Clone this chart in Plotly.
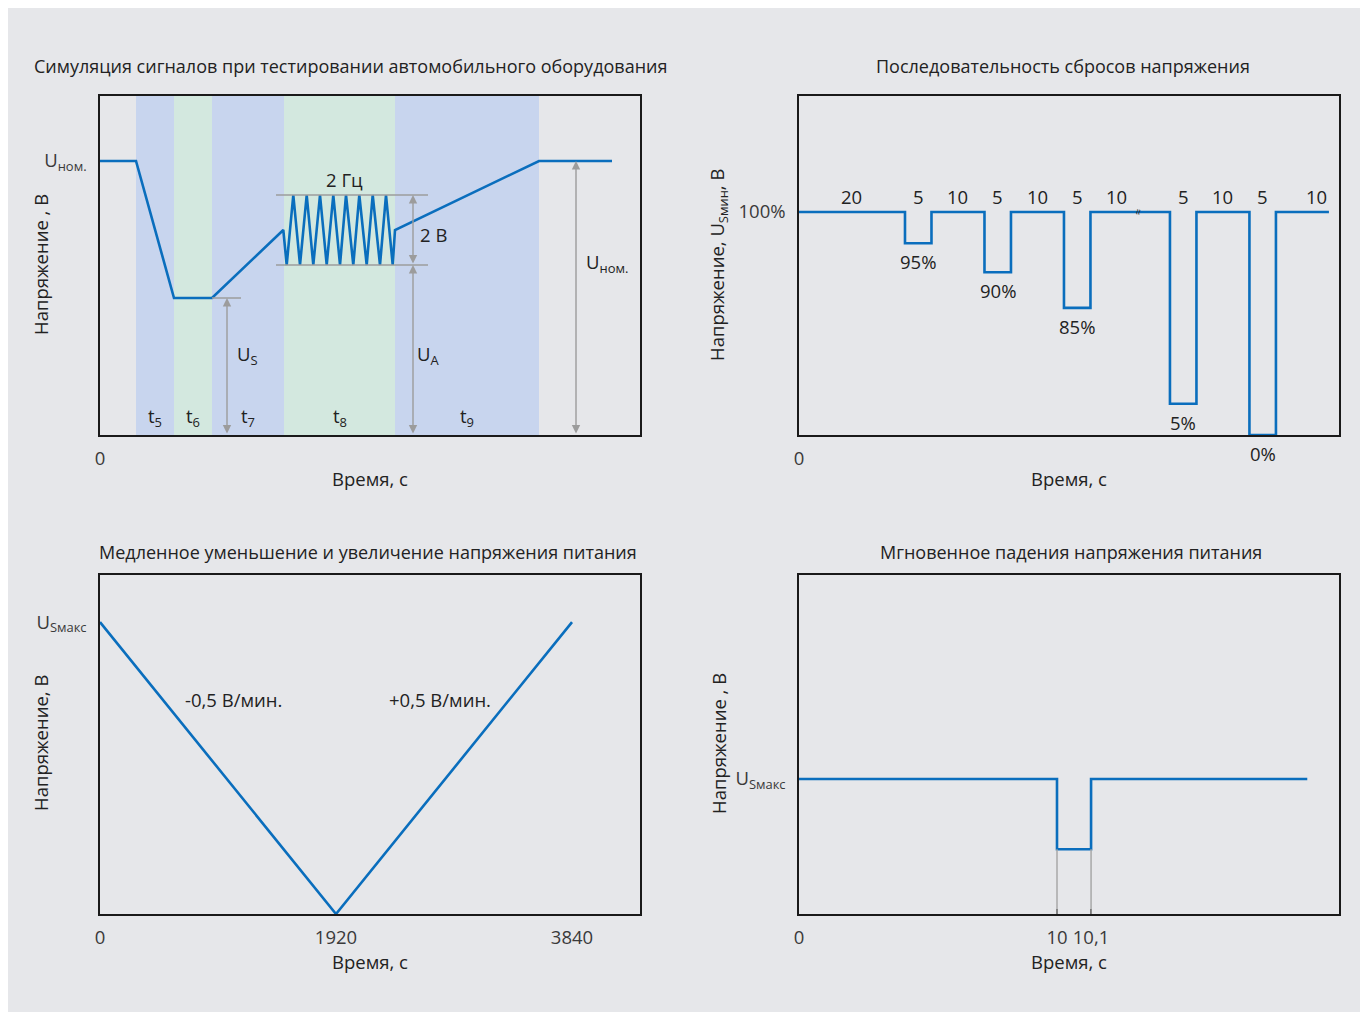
import plotly.graph_objects as go

# page body has an 8px margin, so the figure is sized to fit the window
OFF = 8
W, H = 1368 - OFF, 1016 - OFF
BG = "#e6e7ea"
BLUE = "#0a6ebd"
BAND_BLUE = "#c8d5ee"
BAND_GREEN = "#d3e8df"
GRAY = "#9c9c9c"
TXT = "#222222"
TICK = "#3a3a3a"
FONT = "Open Sans"
FS = 18.5
FS_TITLE = 18

# ---------------- Chart 1: automotive test signal (schematic units) ----------------
phase_labels = ["t<sub>5</sub>", "t<sub>6</sub>", "t<sub>7</sub>", "t<sub>8</sub>", "t<sub>9</sub>"]
phase_bounds = [36, 74, 112, 184, 295, 439]
phase_colors = [BAND_BLUE, BAND_GREEN, BAND_BLUE, BAND_GREEN, BAND_BLUE]
U_NOM = 274
U_S = 137
OSC_HI = 240
OSC_LO = 170
sim_t = [0, 36, 74, 112, 183.3, 186.7, 193.3, 200, 206.7, 213.3, 220, 226.7, 233.3,
         240, 246, 253.3, 259.3, 266.7, 272.7, 280, 286, 292.7, 295, 439, 512]
sim_u = [274, 274, 137, 137, 205, 170, 240, 170, 240, 170, 240, 170, 240,
         170, 240, 170, 240, 170, 240, 170, 240, 170, 205, 274, 274]

# ---------------- Chart 2: voltage drop sequence ----------------
seq_durations = [20, 5, 10, 5, 10, 5, 10, 5, 10, 5, 10]
seq_labels = ["100%", "95%", "100%", "90%", "100%", "85%", "100%", "5%", "100%", "0%", "100%"]
seq_plot_level = [100, 86, 100, 73, 100, 57, 100, 14, 100, 0, 100]  # schematic depth
break_after = 6
break_gap = 5

# ---------------- Chart 3: slow ramp ----------------
ramp_t = [0, 1920, 3840]
ramp_u = [16, 0, 16]
ramp_labels = ["-0,5 В/мин.", "+0,5 В/мин."]

# ---------------- Chart 4: momentary drop ----------------
drop_start = 10
drop_width_display = 1.32   # 0.1 s drawn widened (schematic)
drop_end_label = "10,1"
drop_end_display = 19.7
drop_level = 0.48
u_max = 1.0


def dx(px):
    return (px - OFF) / W


def dy(py):
    return 1 - (py - OFF) / H


fig = go.Figure()

fig.add_trace(go.Scatter(x=sim_t, y=sim_u, mode="lines", line=dict(color=BLUE, width=2.6),
                         xaxis="x", yaxis="y", hoverinfo="skip", showlegend=False))

sx, sy = [], []
t = 0
for i, (d, lv) in enumerate(zip(seq_durations, seq_plot_level)):
    end = t + d + (break_gap if i == break_after else 0)
    sx += [t, end]
    sy += [lv, lv]
    t = end
fig.add_trace(go.Scatter(x=sx, y=sy, mode="lines", line=dict(color=BLUE, width=2.6),
                         xaxis="x2", yaxis="y2", hoverinfo="skip", showlegend=False))

fig.add_trace(go.Scatter(x=ramp_t, y=ramp_u, mode="lines", line=dict(color=BLUE, width=2.6),
                         xaxis="x3", yaxis="y3", hoverinfo="skip", showlegend=False))

d_end = drop_start + drop_width_display
px4 = [0, drop_start, drop_start, d_end, d_end, drop_end_display]
py4 = [u_max, u_max, drop_level, drop_level, u_max, u_max]
fig.add_trace(go.Scatter(x=px4, y=py4, mode="lines", line=dict(color=BLUE, width=2.6),
                         xaxis="x4", yaxis="y4", hoverinfo="skip", showlegend=False))

shapes = []
annotations = []

shapes.append(dict(type="rect", xref="paper", yref="paper", x0=0, x1=dx(1362),
                   y0=dy(1012), y1=1, fillcolor=BG, line=dict(width=0), layer="below"))


def txt(x, y, text, xref, yref, size=FS, **kw):
    d = dict(x=x, y=y, xref=xref, yref=yref, text=text, showarrow=False,
             xanchor="center", yanchor="middle", font=dict(size=size, color=TXT, family=FONT))
    d.update(kw)
    annotations.append(d)


for i, c in enumerate(phase_colors):
    shapes.append(dict(type="rect", xref="x", yref="y domain", x0=phase_bounds[i], x1=phase_bounds[i + 1],
                       y0=0, y1=1, fillcolor=c, line=dict(width=0), layer="below"))
    txt((phase_bounds[i] + phase_bounds[i + 1]) / 2, 18, phase_labels[i], "x", "y")

for yv in (OSC_HI, OSC_LO):
    shapes.append(dict(type="line", xref="x", yref="y", x0=176, x1=328, y0=yv, y1=yv,
                       line=dict(color=GRAY, width=1.5)))
shapes.append(dict(type="line", xref="x", yref="y", x0=phase_bounds[2], x1=141, y0=U_S, y1=U_S,
                   line=dict(color=GRAY, width=1.5)))


def darrow(xr, yr, x, y0, y1):
    annotations.append(dict(x=x, y=y1, ax=x, ay=y0, xref=xr, yref=yr, axref=xr, ayref=yr, text="",
                            showarrow=True, arrowhead=2, arrowside="end+start", arrowsize=1.2,
                            arrowwidth=1.4, arrowcolor=GRAY, standoff=0, startstandoff=0))


darrow("x", "y", 127, 0, U_S)
darrow("x", "y", 313, OSC_LO, OSC_HI)
darrow("x", "y", 313, 0, OSC_LO)
darrow("x", "y", 476, 0, U_NOM)

for x, y, tx in [(244, 256, "2 Гц"), (333, 201, "2 В"), (147, 80, "U<sub>S</sub>"),
                 (328, 80, "U<sub>A</sub>"), (507, 172, "U<sub>ном.</sub>")]:
    txt(x, y, tx, "x", "y")

t = 0
n = len(seq_durations)
for i, (d, lv, lab) in enumerate(zip(seq_durations, seq_plot_level, seq_labels)):
    if i == n - 1:
        txt(t + d, 100, str(d), "x2", "y2", xanchor="right", yanchor="bottom", yshift=1)
    else:
        txt(t + d / 2, 100, str(d), "x2", "y2", yanchor="bottom", yshift=1)
    if lab != "100%":
        txt(t + d / 2, lv, lab, "x2", "y2", yanchor="top", yshift=-4)
    if i == break_after:
        txt(t + d - 1, 100, "≈", "x2", "y2", size=11, textangle=-80)
    t = t + d + (break_gap if i == break_after else 0)

txt(1082, 11.78, ramp_labels[0], "x3", "y3")
txt(2766, 11.78, ramp_labels[1], "x3", "y3")

for xv in (drop_start, d_end):
    shapes.append(dict(type="line", xref="x4", yref="y4", x0=xv, x1=xv, y0=0, y1=drop_level,
                       line=dict(color="#a8a8a8", width=1.5)))

titles = [
    (350, 66, "Симуляция сигналов при тестировании автомобильного оборудования"),
    (1063, 66, "Последовательность сбросов напряжения"),
    (368, 552, "Медленное уменьшение и увеличение напряжения питания"),
    (1071, 552, "Мгновенное падения напряжения питания"),
]
for x, y, tx in titles:
    txt(dx(x), dy(y), tx, "paper", "paper", size=FS_TITLE)

ytitles = [
    (40, 265, "Напряжение , В"),
    (718, 265, "Напряжение, U<sub>Sмин</sub>, В"),
    (40, 743, "Напряжение, В"),
    (718, 744, "Напряжение , В"),
]
for x, y, tx in ytitles:
    txt(dx(x), dy(y), tx, "paper", "paper", textangle=-90)

tickfont = dict(size=FS, color=TICK, family=FONT)


def xax(l, r, rng, tv, tt, anchor, ticks=""):
    return dict(domain=[dx(l), dx(r)], range=rng, anchor=anchor, showline=True, mirror=True,
                linecolor="#1a1a1a", linewidth=1.5, showgrid=False, zeroline=False,
                tickvals=tv, ticktext=tt, tickfont=tickfont, ticks=ticks, ticklen=5,
                tickcolor="#1a1a1a", tickwidth=1.5, ticklabelstandoff=6, fixedrange=True,
                automargin=False,
                title=dict(text="Время, с", font=dict(size=FS, color=TXT, family=FONT), standoff=4))


def yax(t, b, rng, tv, tt, anchor):
    return dict(domain=[dy(b), dy(t)], range=rng, anchor=anchor, showline=True, mirror=True,
                linecolor="#1a1a1a", linewidth=1.5, showgrid=False, zeroline=False,
                tickvals=tv, ticktext=tt, tickfont=tickfont, ticks="", ticklabelstandoff=8,
                fixedrange=True, automargin=False)


fig.update_layout(
    width=W, height=H, margin=dict(l=0, r=0, t=0, b=0, pad=0),
    paper_bgcolor="white", plot_bgcolor="rgba(0,0,0,0)",
    font=dict(family=FONT, size=FS, color=TXT),
    showlegend=False,
    xaxis=xax(100, 640, [0, 540], [0], ["0"], "y"),
    yaxis=yax(96, 435, [0, 339], [U_NOM], ["U<sub>ном.</sub>"], "x"),
    xaxis2=xax(799, 1339, [0, 101.9], [0], ["0"], "y2"),
    yaxis2=yax(96, 435, [0, 152], [100], ["100%"], "x2"),
    xaxis3=xax(100, 640, [0, 4393], ramp_t, [str(v) for v in ramp_t], "y3"),
    yaxis3=yax(575, 914, [0, 18.58], [16], ["U<sub>Sмакс</sub>"], "x3"),
    xaxis4=xax(799, 1339, [0, 20.93], [0, drop_start, d_end], ["0", str(drop_start), drop_end_label], "y4",
               ticks="inside"),
    yaxis4=yax(575, 914, [0, 2.511], [u_max], ["U<sub>Sмакс</sub>"], "x4"),
    shapes=shapes,
    annotations=annotations,
)

fig.write_html("out.html")
